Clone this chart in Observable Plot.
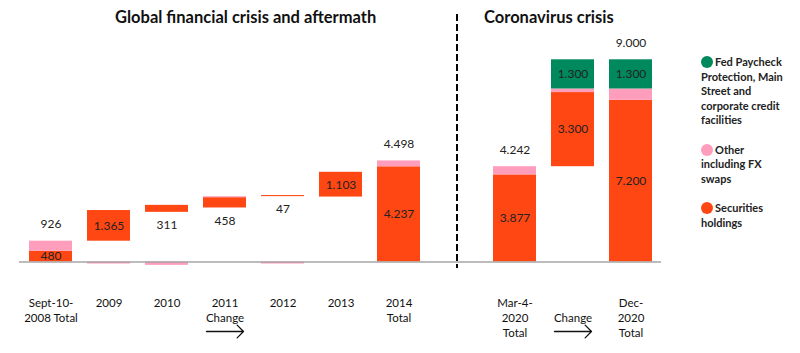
<!DOCTYPE html>
<html><head><meta charset="utf-8">
<script src="https://cdn.jsdelivr.net/npm/d3@7"></script>
<script src="https://cdn.jsdelivr.net/npm/@observablehq/plot@0.6"></script>
<style>
body{margin:0;background:#fff;}
#wrap{position:relative;width:800px;height:353px;font-family:Lato,"DejaVu Sans",sans-serif;color:#111;}
.title{position:absolute;top:7px;font-weight:bold;font-size:16.5px;white-space:nowrap;}
#legend{position:absolute;left:701px;top:55px;width:98px;font-weight:bold;font-size:11px;line-height:14.5px;color:#222;}
.item{white-space:pre-line;margin-bottom:15px;}
.dot{display:inline-block;width:12px;height:12px;border-radius:50%;vertical-align:-2px;margin-right:2px;}
</style></head>
<body><div id="wrap"></div>
<script>
// Categories (x); "gap" is the empty slot where the dashed divider sits
const categories = ["2008", "2009", "2010", "2011", "2012", "2013", "2014", "gap", "Mar2020", "Change2020", "Dec2020"];
const tickLabels = ["Sept-10-\n2008 Total", "2009", "2010", "2011\nChange", "2012", "2013", "2014\nTotal", "", "Mar-4-\n2020\nTotal", "\nChange", "Dec-\n2020\nTotal"];
const isTotal = [true, false, false, false, false, false, true, false, true, false, true];
const arrowCats = ["2011", "Change2020"];

const seriesNames = ["Securities holdings", "Other including FX swaps", "Fed Paycheck Protection, Main Street and corporate credit facilities"];
const seriesColors = ["#ff4713", "#ff9dbd", "#00895c"];
const legendNames = ["Fed Paycheck\nProtection, Main\nStreet and\ncorporate credit\nfacilities", "Other\nincluding FX\nswaps", "Securities\nholdings"];

// segment start / end values (bn)
const securitiesFrom = [0, 926, 2210, 2405, 2910, 2890, 0, null, 0, 4242, 0];
const securitiesTo   = [480, 2291, 2521, 2863, 2957, 3993, 4237, null, 3877, 7542, 7200];
const otherFrom      = [480, 0, 0, 2863, 0, null, 4237, null, 3877, 7542, 7200];
const otherTo        = [926, -90, -150, 2905, -90, null, 4498, null, 4242, 7700, 7700];
const fedFrom        = [null, null, null, null, null, null, null, null, null, 7700, 7700];
const fedTo          = [null, null, null, null, null, null, null, null, null, 9000, 9000];

// value labels
const securitiesLabel = [480, 1365, 311, 458, 47, 1103, 4237, null, 3877, 3300, 7200];
const fedLabel        = [null, null, null, null, null, null, null, null, null, 1300, 1300];
const totalLabel      = [926, null, null, null, null, null, 4498, null, 4242, null, 9000];

const fmt = d3.formatLocale({decimal: ",", thousands: ".", grouping: [3], currency: ["", ""]}).format(",d");

const segments = [];
const addSeries = (name, from, to) => categories.forEach((c, i) => {
  if (from[i] != null && to[i] != null) segments.push({cat: c, series: name, y1: from[i], y2: to[i]});
});
addSeries(seriesNames[0], securitiesFrom, securitiesTo);
addSeries(seriesNames[1], otherFrom, otherTo);
addSeries(seriesNames[2], fedFrom, fedTo);

const yMax = 9000, yPxBase = 261.5, yPxTop = 59.3;
const pxPerUnit = (yPxBase - yPxTop) / yMax;

const midLabels = [], belowLabels = [], aboveLabels = [];
categories.forEach((c, i) => {
  const v = securitiesLabel[i];
  if (v != null) {
    const h = (securitiesTo[i] - securitiesFrom[i]) * pxPerUnit;
    const row = {cat: c, text: fmt(v), y1: securitiesFrom[i], y: (securitiesFrom[i] + securitiesTo[i]) / 2};
    if (!isTotal[i] && h < 16) belowLabels.push(row); else midLabels.push(row);
  }
  if (fedLabel[i] != null) midLabels.push({cat: c, text: fmt(fedLabel[i]), y: (fedFrom[i] + fedTo[i]) / 2});
  if (totalLabel[i] != null) {
    const top = d3.max(segments.filter(s => s.cat === c), s => Math.max(s.y1, s.y2));
    aboveLabels.push({cat: c, text: fmt(totalLabel[i]), y: top});
  }
});

const chart = Plot.plot({
  width: 800, height: 353,
  marginLeft: 19, marginRight: 139, marginTop: 14, marginBottom: 85,
  x: {domain: categories, paddingInner: 0.26, paddingOuter: 0.13, axis: null, label: null},
  y: {domain: [0, yMax], range: [yPxBase, yPxTop], axis: null},
  color: {domain: seriesNames, range: seriesColors},
  style: {fontFamily: "Lato, 'DejaVu Sans', sans-serif", color: "#111", background: "transparent"},
  marks: [
    Plot.rectY(segments, {x: "cat", y1: "y1", y2: "y2", fill: "series"}),
    Plot.ruleY([0], {stroke: "#a6a6a6", strokeWidth: 1.6}),
    Plot.ruleX(["gap"], {stroke: "#000", strokeWidth: 2, strokeDasharray: "7,3"}),
    Plot.text(midLabels, {x: "cat", y: "y", text: "text", fontSize: 12, fill: "#222"}),
    Plot.text(belowLabels, {x: "cat", y: "y1", text: "text", fontSize: 12, fill: "#222", dy: 13}),
    Plot.text(aboveLabels, {x: "cat", y: "y", text: "text", fontSize: 12, fill: "#222", dy: -17}),
    Plot.axisX(categories.filter(c => c !== "gap"), {
      tickFormat: c => tickLabels[categories.indexOf(c)],
      tickSize: 0, tickPadding: 28, fontSize: 11.5, lineHeight: 1.3, fill: "#111", label: null
    }),
    Plot.vector(arrowCats, {x: d => d, frameAnchor: "bottom", dy: 63, length: 37, rotate: 90, anchor: "middle",
      shape: "arrow", r: 3, stroke: "#111", strokeWidth: 1.3})
  ]
});

const wrap = document.getElementById("wrap");
wrap.appendChild(chart);
chart.style.position = "absolute"; chart.style.left = "0"; chart.style.top = "0";

const t1 = document.createElement("div"); t1.className = "title"; t1.style.left = "115px";
t1.textContent = "Global financial crisis and aftermath"; wrap.appendChild(t1);
const t2 = document.createElement("div"); t2.className = "title"; t2.style.left = "484px";
t2.textContent = "Coronavirus crisis"; wrap.appendChild(t2);

const legend = document.createElement("div"); legend.id = "legend";
const legendOrder = [2, 1, 0];
legendOrder.forEach((si, k) => {
  const it = document.createElement("div"); it.className = "item";
  const dot = document.createElement("span"); dot.className = "dot"; dot.style.background = seriesColors[si];
  it.appendChild(dot);
  it.appendChild(document.createTextNode(legendNames[k]));
  legend.appendChild(it);
});
wrap.appendChild(legend);
</script>
</body></html>
